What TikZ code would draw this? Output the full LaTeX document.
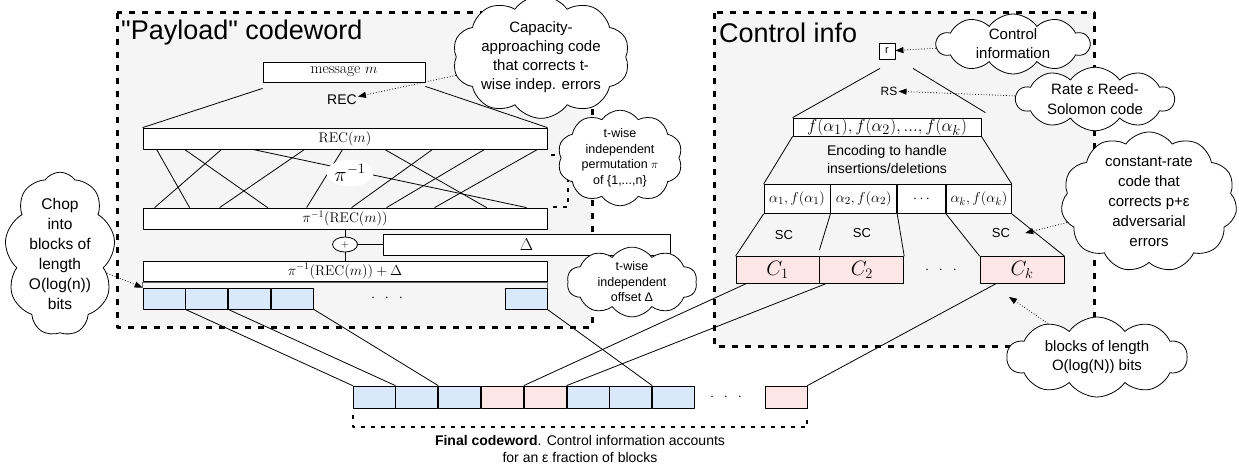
\documentclass[tikz,border=0pt]{standalone}
\usepackage{fontspec}
\newfontfamily\notefont{Liberation Sans}
\usetikzlibrary{arrows.meta, positioning, calc, shapes.symbols, shapes.geometric}

\definecolor{blockblue}{HTML}{DAE8FC}
\definecolor{blockpink}{HTML}{FFE6E6}
\definecolor{regiongray}{HTML}{F5F5F5}

\tikzset{
    region/.style={draw, line width=3pt, dash pattern=on 6pt off 7pt, fill=regiongray},
    plainbox/.style={draw, line width=0.8pt, fill=white, inner sep=0pt, font=\fontsize{14}{16}\selectfont},
    bluebox/.style={draw, line width=0.8pt, fill=blockblue, minimum width=42pt, minimum height=21pt, inner sep=0pt},
    pinkbox/.style={draw, line width=0.8pt, fill=blockpink, minimum width=42pt, minimum height=22pt, inner sep=0pt},
    lbl/.style={font=\notefont\fontsize{13}{16}\selectfont, inner sep=1pt},
    thought/.style={cloud, draw, fill=white, line width=0.8pt, cloud puffs=10, cloud puff arc=110,
        cloud ignores aspect, align=center, inner sep=0pt, font=\notefont\fontsize{15}{19}\selectfont},
    note/.style={dotted, line width=0.8pt, -{Triangle[length=8pt, width=6pt]}},
    bracket/.style={line width=2pt, dash pattern=on 4pt off 6pt},
    spread/.style={font=\fontsize{14}{16}\selectfont, inner sep=0pt}
}
\newcommand{\spreaddots}{$\cdot$\hspace{10pt}$\cdot$\hspace{10pt}$\cdot$}

\begin{document}
\begin{tikzpicture}[x=1pt, y=-1pt, line join=round, node distance=0pt]
    \useasboundingbox (0,0) rectangle (1239,465);

    % the two dashed regions
    \draw[region] (117,13) rectangle (592,327);
    \draw[region] (714,13) rectangle (1094,346);
    \node[anchor=west, inner sep=0pt, font=\notefont\fontsize{27}{30}\selectfont] (paytitle) at (121,33) {"Payload" codeword};
    \node[anchor=west, inner sep=0pt, font=\notefont\fontsize{27}{30}\selectfont] (ctltitle) at (719,33) {Control info};

    % payload: message -> REC -> permutation -> offset
    \node[plainbox, minimum width=162pt, minimum height=20pt, font=\fontsize{15.5}{17}\selectfont] (msg) at (344,72) {message $m$};
    \node[lbl, font=\notefont\fontsize{14}{16}\selectfont] (reclbl) at (342,100) {REC};
    \node[plainbox, minimum width=404pt, minimum height=21pt] (rec) at (345,138.5) {$\mathrm{REC}(m)$};
    \node[plainbox, minimum width=404pt, minimum height=21pt] (perm) at (345,218.5) {$\pi^{-1}(\mathrm{REC}(m))$};
    \node[ellipse, draw, line width=0.8pt, fill=white, minimum width=25pt, minimum height=15pt, inner sep=0pt] (plus) at (345,244.5) {$+$};
    \node[plainbox, minimum width=287pt, minimum height=21pt, font=\fontsize{19}{20}\selectfont] (delta) at (526.5,244.5) {$\Delta$};
    \node[plainbox, minimum width=404pt, minimum height=20pt] (sum) at (345,271) {$\pi^{-1}(\mathrm{REC}(m))+\Delta$};

    \draw[line width=0.8pt] ([yshift=-6pt]msg.south west) -- (rec.north west);
    \draw[line width=0.8pt] ([yshift=-4pt]msg.south east) -- (rec.north east);
    \foreach \a/\b in {14/47, 42/125, 79/12, 110/384, 162/77, 200/164, 242/344, 290/209, 342/244, 395/292}
        \draw[line width=0.8pt] ([xshift=\a]rec.south west) -- ([xshift=\b]perm.north west);
    \node[ellipse, fill=white, inner sep=1pt, font=\fontsize{22}{24}\selectfont] (pilbl) at (350,173) {$\pi^{-1}$};
    \draw[line width=0.8pt] (perm.south) -- (plus);
    \draw[line width=0.8pt] (plus) -- (sum.north);
    \draw[line width=0.8pt] (plus) -- (delta);
    \draw[bracket] ([shift={(4,6)}]rec.south east) -- ++(17,0) |- ([shift={(6,-1)}]perm.north east);

    % payload blocks
    \node[bluebox] (p1) at (164,298.5) {};
    \node[bluebox, right=of p1] (p2) {};
    \node[bluebox, right=of p2] (p3) {};
    \node[bluebox, right=of p3] (p4) {};
    \node[bluebox] (p5) at (526,298.5) {};
    \node[spread] (pdots) at (387,298) {\spreaddots};
    \draw[line width=0.6pt, black!60] (p1.north west) -- ++(0,-5) -| (p5.north east);

    % control information
    \node[plainbox, minimum size=16pt, font=\notefont\fontsize{11}{12}\selectfont] (r) at (887,51) {r};
    \node[lbl, font=\notefont\fontsize{12}{14}\selectfont] (rslbl) at (889,91) {RS};
    \node[plainbox, minimum width=188pt, minimum height=18pt, font=\fontsize{19}{20}\selectfont] (fbox) at (887,127) {$f(\alpha_1), f(\alpha_2), ..., f(\alpha_k)$};
    \node[lbl, align=center, font=\notefont\fontsize{14}{18}\selectfont] (enclbl) at (887,159) {Encoding to handle\\insertions/deletions};
    \node[plainbox, minimum width=66pt, minimum height=29pt, font=\fontsize{15}{17}\selectfont] (a1) at (797,199) {$\alpha_1, f(\alpha_1)$};
    \node[plainbox, minimum width=66pt, minimum height=29pt, font=\fontsize{15}{17}\selectfont, right=of a1] (a2) {$\alpha_2, f(\alpha_2)$};
    \node[plainbox, minimum width=48pt, minimum height=29pt, font=\fontsize{15}{17}\selectfont, right=of a2] (adots) {$\cdots$};
    \node[plainbox, minimum width=65pt, minimum height=29pt, font=\fontsize{15}{17}\selectfont, right=of adots] (ak) {$\alpha_k, f(\alpha_k)$};
    \node[lbl] (sc1) at (784,235) {SC};
    \node[lbl] (sc2) at (862,233) {SC};
    \node[lbl] (sc3) at (1001,233) {SC};
    \node[pinkbox, minimum width=83pt, minimum height=27pt, font=\fontsize{21}{22}\selectfont] (c1) at (777.5,270) {$C_1$};
    \node[pinkbox, minimum width=84pt, minimum height=27pt, font=\fontsize{21}{22}\selectfont, right=of c1] (c2) {$C_2$};
    \node[pinkbox, minimum width=84pt, minimum height=27pt, font=\fontsize{21}{22}\selectfont] (ck) at (1022,270) {$C_k$};
    \node[spread] (cdots) at (941,270) {\spreaddots};

    \draw[line width=0.8pt] ([shift={(-7,9)}]r.south) -- (fbox.north west);
    \draw[line width=0.8pt] ([shift={(26,9)}]r.south) -- ([shift={(4,-5)}]fbox.north east);
    \draw[line width=0.8pt] (fbox.south west) -- (a1.north west);
    \draw[line width=0.8pt] (fbox.south east) -- (ak.north east);
    \draw[line width=0.8pt] (a1.south west) -- (c1.north west);
    \draw[line width=0.8pt] (a2.south west) -- ([yshift=6pt]c2.north west);
    \draw[line width=0.8pt] (adots.south west) -- (c2.north east);
    \draw[line width=0.8pt] (ak.south west) -- (ck.north west);
    \draw[line width=0.8pt] (ak.south east) -- (ck.north east);

    % final codeword
    \node[bluebox, minimum height=22pt] (f1) at (374,397) {};
    \node[bluebox, minimum height=22pt, right=of f1] (f2) {};
    \node[bluebox, minimum height=22pt, right=of f2] (f3) {};
    \node[pinkbox, right=of f3] (f4) {};
    \node[pinkbox, right=of f4] (f5) {};
    \node[bluebox, minimum height=22pt, right=of f5] (f6) {};
    \node[bluebox, minimum height=22pt, right=of f6] (f7) {};
    \node[bluebox, minimum height=22pt, right=of f7] (f8) {};
    \node[spread] (fdots) at (726,397) {\spreaddots};
    \node[pinkbox] (fk) at (786,397) {};
    \draw[bracket] ([yshift=-7pt]f1.south west) -- ([yshift=-19pt]f1.south west) -| ([yshift=-7pt]fk.south east);
    \node[anchor=north, align=center, inner sep=0pt, font=\notefont\fontsize{14}{17}\selectfont] (caption)
        at ($(f1.south west)!0.5!(fk.south east)+(0,27)$) {\textbf{Final codeword}. Control information accounts\\for an ε fraction of blocks};

    \draw[line width=0.8pt] (p1.south east) -- (f1.north west);
    \draw[line width=0.8pt] (p2.south east) -- (f2.north west);
    \draw[line width=0.8pt] (p4.south east) -- (f3.north west);
    \draw[line width=0.8pt] (p5.south east) -- (f8.north west);
    \draw[line width=0.8pt] ([xshift=10pt]c1.south west) -- (f5.north west);
    \draw[line width=0.8pt] ([xshift=6pt]c2.south west) -- (f6.north west);
    \draw[line width=0.8pt] ([xshift=16pt]ck.south west) -- (fk.north east);

    % side notes
    \node[thought, minimum width=132pt, minimum height=104pt] (capcloud) at (541,57) {Capacity-\\approaching code\\that corrects t-\\wise indep. errors};
    \node[thought, minimum width=125pt, minimum height=78pt, font=\notefont\fontsize{12.5}{15.5}\selectfont] (permcloud) at (620,158) {t-wise\\independent\\permutation $\pi$\\of \{1,...,n\}};
    \node[thought, minimum width=130pt, minimum height=66pt, font=\notefont\fontsize{12.5}{15.5}\selectfont] (offcloud) at (632,282) {t-wise\\independent\\offset Δ};
    \node[thought, cloud puffs=9, minimum width=108pt, minimum height=145pt, font=\notefont\fontsize{15.5}{20}\selectfont] (chopcloud) at (60,254) {Chop\\into\\blocks of\\length\\O(log(n))\\bits};
    \node[thought, minimum width=153pt, minimum height=60pt] (ctlcloud) at (1013,44) {Control\\information};
    \node[thought, minimum width=158pt, minimum height=56pt, font=\notefont\fontsize{15}{20}\selectfont] (rscloud) at (1095,99) {Rate ε Reed-\\Solomon code};
    \node[thought, cloud puffs=11, minimum width=176pt, minimum height=124pt, font=\notefont\fontsize{15}{20}\selectfont] (constcloud) at (1149,202) {constant-rate\\code that\\corrects p+ε\\adversarial\\errors};
    \node[thought, minimum width=180pt, minimum height=80pt] (blockscloud) at (1097,357) {blocks of length\\O(log(N)) bits};

    \draw[note] (capcloud) -- (reclbl);
    \draw[note] (ctlcloud) -- (r);
    \draw[note] (rscloud) -- (rslbl);
    \draw[note] (constcloud) -- ([xshift=14pt]sc3.east);
    \draw[note] (blockscloud) -- ([shift={(-13,13)}]ck.south);
    \draw[note] (chopcloud) -- (p1.north west);
\end{tikzpicture}
\end{document}
